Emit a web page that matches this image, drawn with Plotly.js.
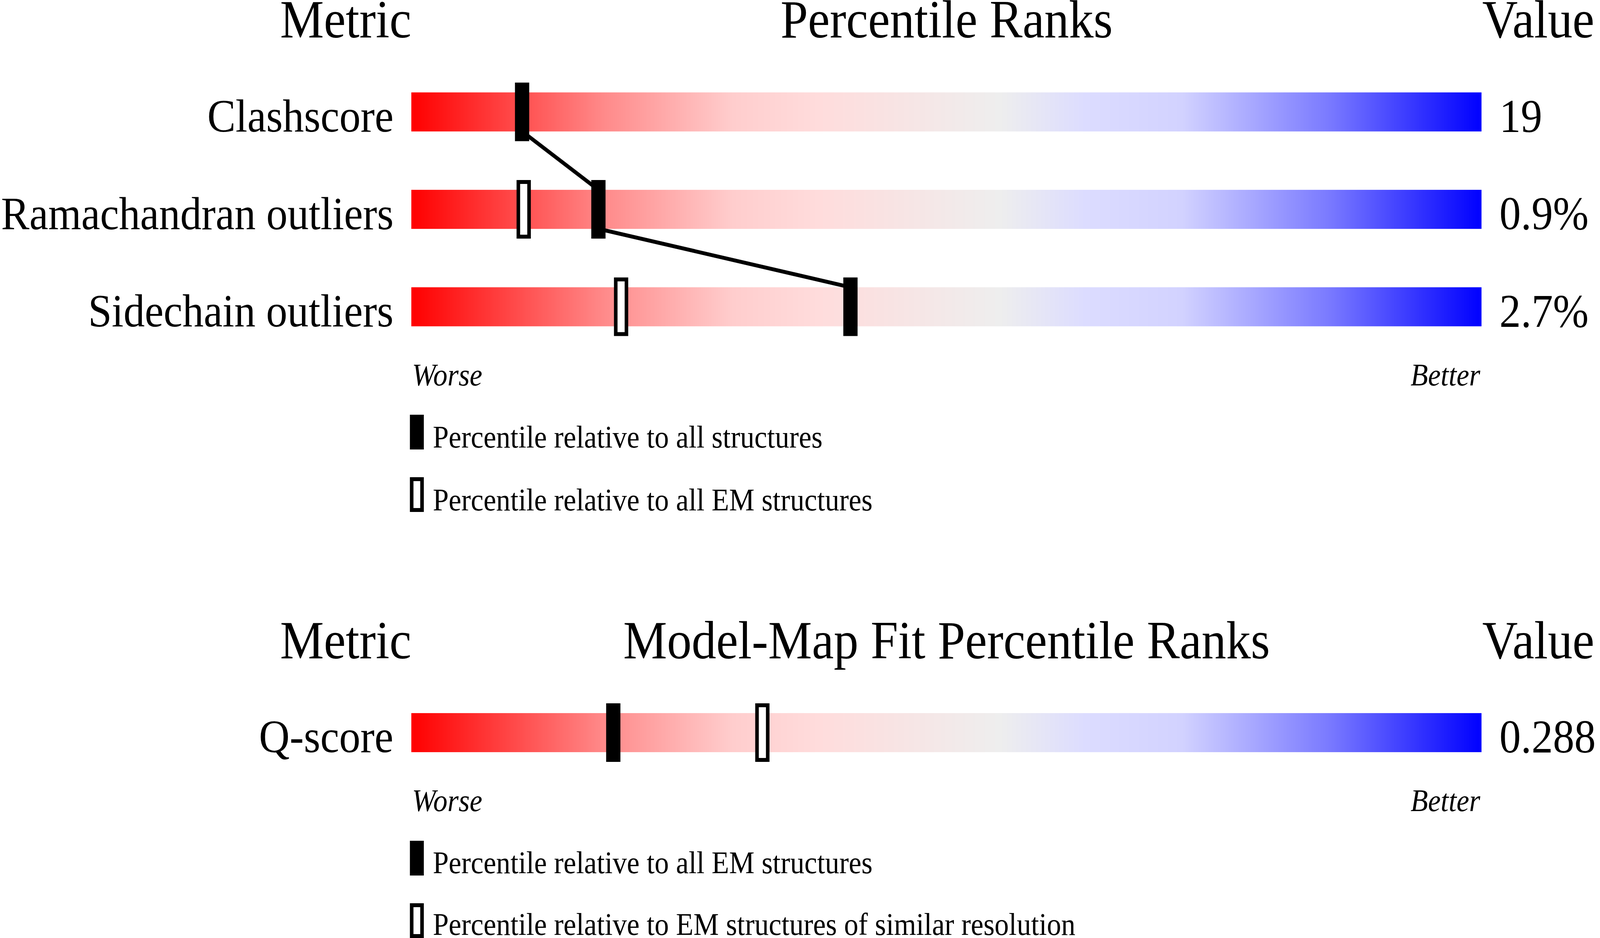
<!DOCTYPE html>
<html>
<head>
<meta charset="utf-8">
<script src="https://cdn.plot.ly/plotly-3.0.1.min.js"></script>
<style>
  html, body { margin: 0; padding: 0; background: #ffffff; overflow: hidden; }
  #chart { width: 4485px; height: 2402px; transform-origin: 0 0; }
</style>
</head>
<body>
<div id="chart"></div>
<script>
// --- geometry / percentile ranks ---
const metrics = ["Clashscore", "Ramachandran outliers", "Sidechain outliers"];
const metricValues = ["19", "0.9%", "2.7%"];
const pctAll = [10.35, 17.48, 41.03];   // relative to all structures
const pctAllEM = [null, 10.5, 19.6];     // relative to all EM structures

// --- model-map fit ---
const fitMetrics = ["Q-score"];
const fitValues = ["0.288"];
const fitPctAllEM = [18.87];             // relative to all EM structures
const fitPctSimRes = [32.8];             // EM structures of similar resolution

// slider colour ramp (percentile -> colour)
const rampPos = [0, 18, 30, 38, 55, 63, 72, 86, 100];
const rampCol = ["#ff0000", "#ff8a8a", "#ffcdcd", "#ffdcdc", "#eeeeee",
                 "#dcdcff", "#d2d2ff", "#7878ff", "#0000ff"];

const W = 4485, H = 2402;
const PL = 1153, PR = 4153;              // slider left / right in px
const px = v => (v - PL) / (PR - PL);    // px -> paper x
const py = v => 1 - v / H;               // px -> paper y

const SERIF = "Liberation Serif, Times New Roman, serif";
const colorscale = rampPos.map((p, i) => [p / 100, rampCol[i]]);

// the window can be narrower than the drawing, fit it in
const chartDiv = document.getElementById("chart");
chartDiv.style.transform = "scale(" + (window.innerWidth / W) + "," + (window.innerHeight / H) + ")";

function slider(rows, pctFilled, pctOpen, yax, joinLine) {
  const tr = [];
  rows.forEach((r, k) => {
    tr.push({
      type: "heatmap", x: rampPos, y: [k - 0.2, k + 0.2], z: [rampPos],
      zmin: 0, zmax: 100, colorscale: colorscale, zsmooth: "best",
      showscale: false, hoverinfo: "skip", xaxis: "x", yaxis: yax
    });
  });
  if (joinLine) {
    const lx = [], ly = [];
    for (let k = 0; k < rows.length - 1; k++) {
      lx.push(pctFilled[k], pctFilled[k + 1]);
      ly.push(k + 0.2, k + 0.8);
    }
    tr.push({
      type: "scatter", mode: "lines", x: lx, y: ly,
      line: { color: "#000000", width: 10 }, xaxis: "x", yaxis: yax, hoverinfo: "skip"
    });
  }
  tr.push({
    type: "bar", x: pctOpen, y: rows.map(() => 0.561), base: rows.map((r, k) => k - 0.2806),
    width: 1.0, marker: { color: "#ffffff", line: { color: "#000000", width: 10 } },
    xaxis: "x", yaxis: yax, hoverinfo: "skip"
  });
  tr.push({
    type: "bar", x: pctFilled, y: rows.map(() => 0.601), base: rows.map((r, k) => k - 0.3006),
    width: 1.333, marker: { color: "#000000", line: { width: 0 } },
    xaxis: "x", yaxis: yax, hoverinfo: "skip"
  });
  return tr;
}

const data = [].concat(
  slider(metrics, pctAll, pctAllEM, "y", true),
  slider(fitMetrics, fitPctAllEM, fitPctSimRes, "y2", false)
);

function txt(text, x, y, size, anchor, extra) {
  return Object.assign({
    text: text, x: x, y: y, xref: "paper", yref: "paper",
    xanchor: anchor, yanchor: "middle", showarrow: false,
    borderpad: 0, borderwidth: 0,
    font: { family: SERIF, size: size, color: "#000000" }
  }, extra || {});
}

const annotations = [];
// headers
[[96, "Percentile Ranks"], [1686, "Model-Map Fit Percentile Ranks"]].forEach(h => {
  const yc = py(h[0] - 0.3375 * 138);
  annotations.push(txt("Metric", px(1153), yc, 138, "right"));
  annotations.push(txt(h[1], 0.5, yc, 138, "center"));
  annotations.push(txt("Value", px(4155), yc, 138, "left"));
});
// row labels and values
[[metrics, metricValues, "y"], [fitMetrics, fitValues, "y2"]].forEach(g => {
  g[0].forEach((m, k) => {
    annotations.push(txt(m, px(1103), k, 119, "right", { yref: g[2], yshift: -10.5 }));
    annotations.push(txt(g[1][k], px(4203), k, 120, "left", { yref: g[2], yshift: -10.5 }));
  });
});
// worse / better
[987, 2077].forEach(b => {
  const yc = py(b - 27);
  annotations.push(txt("<i>Worse</i>", px(1155), yc, 80, "left"));
  annotations.push(txt("<i>Better</i>", px(4150), yc, 80, "right"));
});
// legend text
const legendText = [
  [1146, "Percentile relative to all structures"],
  [1307, "Percentile relative to all EM structures"],
  [2236, "Percentile relative to all EM structures"],
  [2394, "Percentile relative to EM structures of similar resolution"]
];
legendText.forEach(l => annotations.push(txt(l[1], px(1213), py(l[0] - 27), 80, "left")));

// legend keys
const shapes = [];
[1062, 2153].forEach(t => {
  shapes.push({ type: "rect", xref: "paper", yref: "paper",
    x0: px(1149), x1: px(1188), y0: py(t), y1: py(t + 89),
    fillcolor: "#000000", line: { width: 0 } });
  shapes.push({ type: "rect", xref: "paper", yref: "paper",
    x0: px(1154), x1: px(1183), y0: py(t + 165), y1: py(t + 244),
    fillcolor: "#ffffff", line: { color: "#000000", width: 10 } });
});

const layout = {
  width: W, height: H,
  margin: { l: PL, r: W - PR, t: 0, b: 0, pad: 0 },
  paper_bgcolor: "#ffffff", plot_bgcolor: "#ffffff",
  showlegend: false, barmode: "overlay", hovermode: false,
  xaxis: { domain: [0, 1], range: [0, 100], visible: false, fixedrange: true },
  yaxis: { domain: [0.569109, 1], range: [3, -1.1483], visible: false, fixedrange: true },
  yaxis2: { domain: [0.115112, 0.322856], range: [1, -1], visible: false, fixedrange: true },
  annotations: annotations,
  shapes: shapes
};

Plotly.newPlot("chart", data, layout, { staticPlot: true, displayModeBar: false });
</script>
</body>
</html>
